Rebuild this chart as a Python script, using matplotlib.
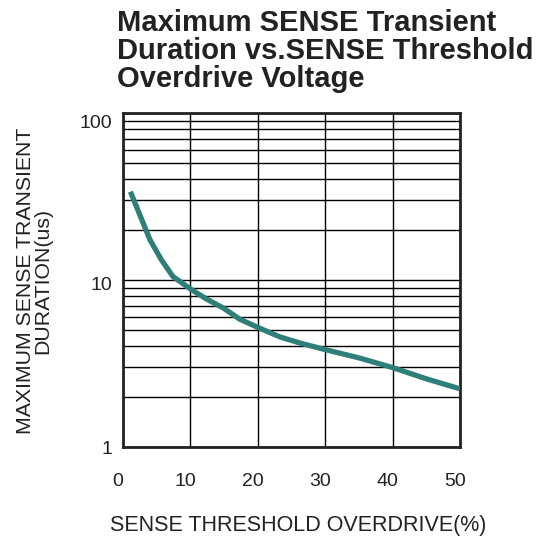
import matplotlib
matplotlib.use("Agg")
import matplotlib.pyplot as plt
from matplotlib.ticker import FixedLocator, NullFormatter
from matplotlib.transforms import ScaledTranslation

plt.rcParams['font.family'] = ['Liberation Sans', 'DejaVu Sans']

overdrive = [1.1, 4.0, 5.7, 7.4, 10.2, 12.4, 14.9, 17.3, 20.2, 23.3, 26.2, 30.0, 35.1, 40.1, 45.0, 50.0]
duration = [33.8, 17.4, 13.2, 10.5, 8.73, 7.69, 6.79, 5.83, 5.16, 4.56, 4.20, 3.83, 3.41, 2.98, 2.56, 2.23]

x_ticks = [0, 10, 20, 30, 40, 50]
y_ticks = [1, 10, 100]
y_ticklabels = ["1", "10", "100"]

title = "Maximum SENSE Transient\nDuration vs.SENSE Threshold\nOverdrive Voltage"
xlabel = "SENSE THRESHOLD OVERDRIVE(%)"
ylabel = "MAXIMUM SENSE TRANSIENT\nDURATION(us)"

W, H = 547, 537
fig = plt.figure(figsize=(W / 100, H / 100), dpi=100)
ax = fig.add_axes([123 / W, 1 - 447 / H, (460 - 123) / W, (447 - 113) / H])

ax.plot(overdrive, duration, color="#2e7f78", lw=3.8, solid_capstyle="butt", zorder=3)
ax.set_yscale("log")
ax.set_xlim(0, 50)
ax.set_ylim(1, 100)

ax.set_xticks(x_ticks)
ax.set_xticklabels([str(v) for v in x_ticks])
ax.set_yticks(y_ticks)
ax.set_yticklabels(y_ticklabels)
minor = [m * d for d in (1, 10) for m in range(2, 10)]
ax.yaxis.set_minor_locator(FixedLocator(minor))
ax.yaxis.set_minor_formatter(NullFormatter())

ax.grid(True, which="major", color="black", lw=1.0)
ax.grid(True, which="minor", axis="y", color="black", lw=1.0)
ax.tick_params(which="both", length=0)
ax.tick_params(axis="x", pad=19, labelsize=14, colors="#222222")
ax.tick_params(axis="y", pad=8, labelsize=14, colors="#222222")
for s in ax.spines.values():
    s.set_linewidth(2.0)
    s.set_color("#222222")

# small label offsets seen in the reference
for lbl in ax.get_xticklabels():
    lbl.set_transform(lbl.get_transform() + ScaledTranslation(-5 / 100, 0, fig.dpi_scale_trans))
y_offsets = {"100": -8, "10": -4, "1": 0}
for lbl, t in zip(ax.get_yticklabels(), y_ticklabels):
    lbl.set_transform(lbl.get_transform() + ScaledTranslation(0, y_offsets[t] / 100, fig.dpi_scale_trans))

fig.text(298 / W, 1 - 525 / H, xlabel, fontsize=15.5, color="#222222", ha="center", va="center")
fig.text(34 / W, 1 - 281 / H, ylabel, fontsize=15.3, color="#222222", ha="center", va="center",
         rotation=90, multialignment="center", linespacing=0.92)

fig.text(117 / W, 1 - 9 / H, title, fontsize=21, fontweight="bold", color="#222222",
         ha="left", va="top", linespacing=1.0)

fig.savefig("out.png", dpi=100)
